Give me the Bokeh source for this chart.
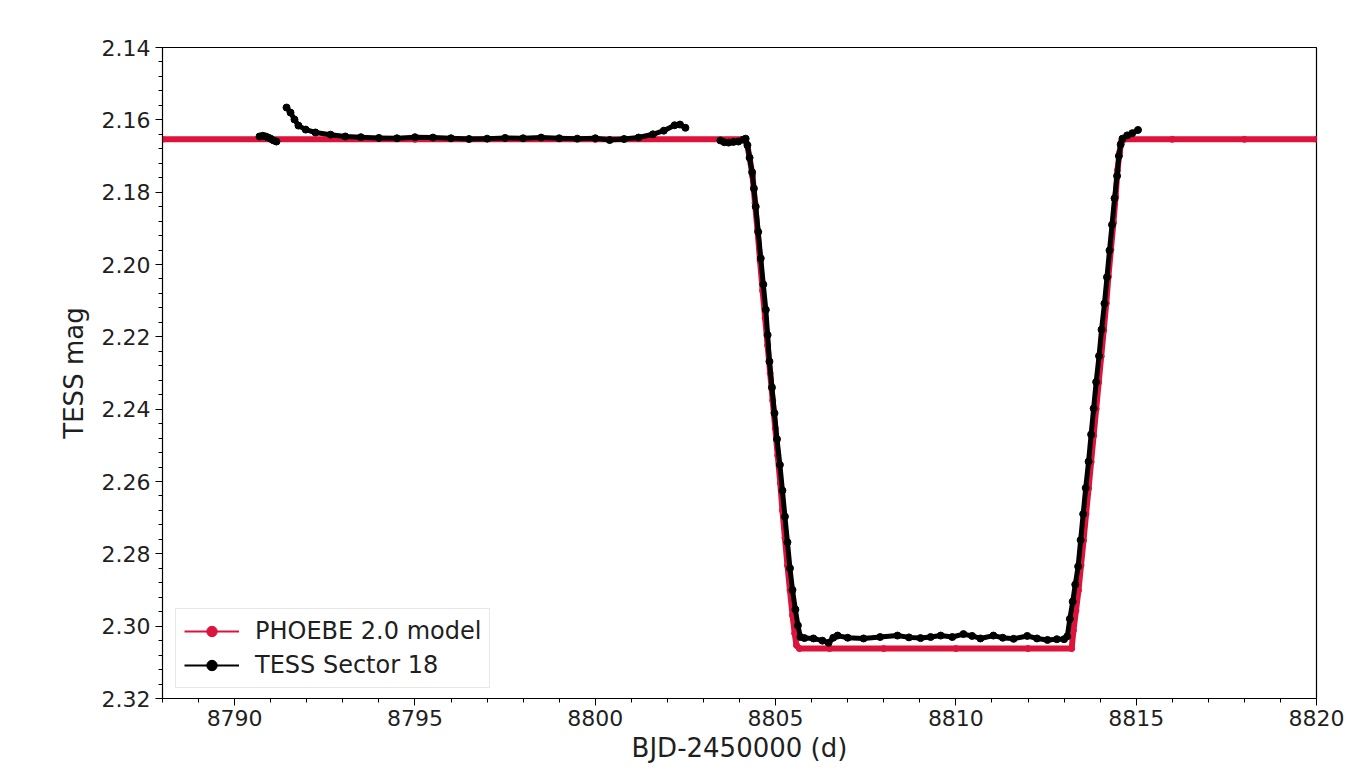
from bokeh.plotting import figure
from bokeh.models import (Range1d, SingleIntervalTicker, PrintfTickFormatter,
                          ColumnDataSource, Legend, LegendItem)
from bokeh.embed import file_html
from bokeh.resources import INLINE

# ---------------- data ----------------
# PHOEBE 2.0 model
model_t = [8788.0, 8791.0, 8795.0, 8800.0, 8804.17, 8804.22, 8804.28, 8804.36, 8804.43, 8804.50,
           8804.57, 8804.64, 8804.71, 8804.78, 8804.85, 8804.92, 8804.99, 8805.06,
           8805.13, 8805.19, 8805.26, 8805.33, 8805.40, 8805.47, 8805.53, 8805.58,
           8805.66, 8806.5, 8808.0, 8810.0, 8812.0, 8813.21, 8813.26, 8813.33, 8813.40,
           8813.47, 8813.54, 8813.61, 8813.68, 8813.75, 8813.82, 8813.89, 8813.96,
           8814.03, 8814.10, 8814.17, 8814.23, 8814.30, 8814.37, 8814.43, 8814.48,
           8814.54, 8814.59, 8814.67, 8816.0, 8818.0, 8820.0]
model_mag = [2.1654, 2.1654, 2.1654, 2.1654, 2.1654, 2.1672, 2.1705, 2.1754, 2.1830, 2.1906,
             2.1990, 2.2072, 2.2148, 2.2224, 2.2300, 2.2376, 2.2452, 2.2528,
             2.2604, 2.2680, 2.2756, 2.2832, 2.2901, 2.2970, 2.3020, 2.3053,
             2.3062, 2.3062, 2.3062, 2.3062, 2.3062, 2.3062, 2.3012, 2.2957, 2.2901,
             2.2832, 2.2763, 2.2690, 2.2619, 2.2546, 2.2473, 2.2400, 2.2326,
             2.2254, 2.2182, 2.2107, 2.2033, 2.1958, 2.1884, 2.1812, 2.1740,
             2.1690, 2.1660, 2.1654, 2.1654, 2.1654, 2.1654]

# TESS Sector 18 light curve, three pieces separated by data gaps
tess1_t = [8790.69, 8790.78, 8790.86, 8790.93, 8791.00, 8791.08, 8791.16]
tess1_mag = [2.1646, 2.1644, 2.1646, 2.1649, 2.1652, 2.1657, 2.1660]

tess2_t = [8791.44, 8791.55, 8791.66, 8791.77, 8791.97, 8792.24, 8792.66, 8793.07,
           8793.50, 8794.00, 8794.50, 8795.00, 8795.50, 8796.00, 8796.50, 8797.00,
           8797.50, 8798.00, 8798.50, 8799.00, 8799.50, 8800.00, 8800.40, 8800.80,
           8801.20, 8801.60, 8801.90, 8802.20, 8802.35, 8802.50]
tess2_mag = [2.1566, 2.1580, 2.1599, 2.1616, 2.1627, 2.1635, 2.1641, 2.1646,
             2.1648, 2.1650, 2.1651, 2.1648, 2.1649, 2.1651, 2.1653, 2.1652,
             2.1650, 2.1651, 2.1649, 2.1651, 2.1652, 2.1651, 2.1656, 2.1653,
             2.1649, 2.1640, 2.1630, 2.1615, 2.1613, 2.1622]

tess3_t = [8803.47, 8803.58, 8803.70, 8803.83, 8803.97, 8804.10, 8804.17,
           8804.22, 8804.28, 8804.35, 8804.40, 8804.45, 8804.52, 8804.59, 8804.66,
           8804.73, 8804.78, 8804.83, 8804.90, 8804.97, 8805.04, 8805.12, 8805.19,
           8805.26, 8805.33, 8805.40, 8805.47, 8805.55, 8805.62, 8805.69,
           8805.80, 8806.05, 8806.30, 8806.47, 8806.60, 8806.72, 8807.00, 8807.44,
           8807.90, 8808.38, 8808.70, 8809.02, 8809.30, 8809.58, 8809.90, 8810.21,
           8810.45, 8810.68, 8811.04, 8811.30, 8811.60, 8811.98, 8812.25, 8812.54,
           8812.80, 8813.00, 8813.09,
           8813.16, 8813.24, 8813.31, 8813.39, 8813.46, 8813.53, 8813.60, 8813.68,
           8813.75, 8813.82, 8813.89, 8813.97, 8814.04, 8814.12, 8814.19, 8814.26,
           8814.33, 8814.40, 8814.47, 8814.52, 8814.57, 8814.62, 8814.75, 8814.89,
           8815.05]
tess3_mag = [2.1657, 2.1662, 2.1663, 2.1661, 2.1660, 2.1655, 2.1652,
             2.1670, 2.1705, 2.1745, 2.1790, 2.1840, 2.1910, 2.1983, 2.2055,
             2.2125, 2.2195, 2.2268, 2.2340, 2.2411, 2.2483, 2.2554, 2.2625,
             2.2697, 2.2768, 2.2840, 2.2900, 2.2954, 2.2998, 2.3030,
             2.3033, 2.3034, 2.3040, 2.3046, 2.3032, 2.3026, 2.3032, 2.3034,
             2.3030, 2.3026, 2.3031, 2.3033, 2.3030, 2.3026, 2.3030, 2.3022,
             2.3027, 2.3034, 2.3026, 2.3032, 2.3035, 2.3027, 2.3034, 2.3038,
             2.3036, 2.3036, 2.3028,
             2.2980, 2.2932, 2.2885, 2.2835, 2.2762, 2.2690, 2.2618, 2.2545,
             2.2470, 2.2398, 2.2325, 2.2253, 2.2180, 2.2108, 2.2035, 2.1961,
             2.1890, 2.1817, 2.1755, 2.1700, 2.1668, 2.1652, 2.1643, 2.1637,
             2.1628]

x_start, x_end = 8788, 8820
y_top, y_bottom = 2.14, 2.32

MODEL_COLOR = "#dc143c"
DATA_COLOR = "#000000"
FONT = "DejaVu Sans"
TEXT_COLOR = "#1f1f1f"

# ---------------- figure ----------------
p = figure(width=1372, height=773, output_backend="svg", toolbar_location=None,
           x_range=Range1d(x_start, x_end), y_range=Range1d(y_bottom, y_top),
           min_border_left=162, min_border_right=56, min_border_top=47,
           min_border_bottom=75)
p.background_fill_color = "white"
p.border_fill_color = "white"
p.outline_line_color = "black"
p.outline_line_width = 1.2
p.xgrid.visible = False
p.ygrid.visible = False

# model
p.line(model_t, model_mag, line_color=MODEL_COLOR, line_width=6,
       line_join="round", line_cap="round")
p.scatter(model_t, model_mag, size=6, fill_color=MODEL_COLOR, line_color=MODEL_COLOR)

# observations
for tt, mm in [(tess1_t, tess1_mag), (tess2_t, tess2_mag), (tess3_t, tess3_mag)]:
    p.line(tt, mm, line_color=DATA_COLOR, line_width=5, line_join="round", line_cap="round")
    p.scatter(tt, mm, size=7, fill_color=DATA_COLOR, line_color=DATA_COLOR)

# legend proxies (thin line + dot, like the reference legend); the single
# point lies far outside the visible range so only the legend shows it
proxy_a = ColumnDataSource(dict(x=[0.0], y=[0.0]))
proxy_b = ColumnDataSource(dict(x=[0.0], y=[0.0]))
lm_line = p.line("x", "y", source=proxy_a, line_color=MODEL_COLOR, line_width=2)
lm_dot = p.scatter("x", "y", source=proxy_a, size=9, fill_color=MODEL_COLOR, line_color=MODEL_COLOR)
ld_line = p.line("x", "y", source=proxy_b, line_color=DATA_COLOR, line_width=2)
ld_dot = p.scatter("x", "y", source=proxy_b, size=9, fill_color=DATA_COLOR, line_color=DATA_COLOR)

legend = Legend(items=[LegendItem(label="PHOEBE 2.0 model", renderers=[lm_line, lm_dot]),
                       LegendItem(label="TESS Sector 18", renderers=[ld_line, ld_dot])],
                location=(13, 10))
legend.label_text_font = FONT
legend.label_text_font_size = "24px"
legend.label_text_color = TEXT_COLOR
legend.glyph_width = 55
legend.glyph_height = 26
legend.label_height = 26
legend.label_standoff = 16
legend.spacing = 6
legend.padding = 8
legend.margin = 0
legend.border_line_color = "#d0d0d0"
legend.border_line_width = 1
legend.background_fill_alpha = 0.9
p.add_layout(legend, "center")

# axes
p.xaxis.ticker = SingleIntervalTicker(interval=5, num_minor_ticks=5)
p.yaxis.ticker = SingleIntervalTicker(interval=0.02, num_minor_ticks=5)
p.yaxis.formatter = PrintfTickFormatter(format="%.2f")
p.xaxis.axis_label = "BJD-2450000 (d)"
p.yaxis.axis_label = "TESS mag"
for ax in (p.xaxis, p.yaxis):
    ax.axis_line_color = "black"
    ax.major_tick_line_color = "black"
    ax.minor_tick_line_color = "black"
    ax.major_tick_in = 0
    ax.major_tick_out = 7
    ax.minor_tick_in = 0
    ax.minor_tick_out = 4
    ax.major_label_text_font = FONT
    ax.major_label_text_font_size = "22px"
    ax.major_label_text_color = TEXT_COLOR
    ax.axis_label_text_font = FONT
    ax.axis_label_text_font_size = "26px"
    ax.axis_label_text_font_style = "normal"
    ax.axis_label_text_color = TEXT_COLOR
p.xaxis.major_label_standoff = 4
p.yaxis.major_label_standoff = 5
p.xaxis.axis_label_standoff = 4
p.yaxis.axis_label_standoff = 10

open("out.html", "w").write(file_html(p, INLINE))
